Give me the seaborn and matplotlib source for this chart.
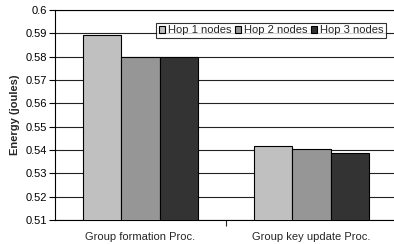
import pandas as pd
import numpy as np
import matplotlib
matplotlib.use("Agg")
import matplotlib.pyplot as plt
import seaborn as sns
from matplotlib.ticker import FuncFormatter, MultipleLocator, FixedLocator

# values
procedures = ["Group formation Proc.", "Group key update Proc."]
series = ["Hop 1 nodes", "Hop 2 nodes", "Hop 3 nodes"]
hop1 = [0.5894, 0.5417]
hop2 = [0.5800, 0.5406]
hop3 = [0.5800, 0.5386]
colors = ["#c0c0c0", "#969696", "#333333"]

df = pd.DataFrame({
    "proc": procedures * 3,
    "series": np.repeat(series, len(procedures)),
    "energy": hop1 + hop2 + hop3,
})

sns.set_style("white")
plt.rcParams["font.family"] = ["Liberation Sans", "DejaVu Sans"]

fig = plt.figure(figsize=(3.94, 2.44), dpi=100)
ax = fig.add_axes([0.1396, 0.0984, 0.868, 0.8607])

sns.barplot(data=df, x="proc", y="energy", hue="series", palette=colors,
            width=0.667, edgecolor="black", linewidth=0.8, ax=ax, zorder=3)

ax.set_ylim(0.51, 0.6)
ax.set_xlim(-0.5, 1.5)
ax.yaxis.set_major_locator(MultipleLocator(0.01))
ax.yaxis.set_major_formatter(FuncFormatter(lambda v, p: f"{round(v, 2):g}"))
ax.grid(axis="y", color="#222222", linewidth=0.8, zorder=0)
ax.set_axisbelow(True)

ax.set_xlabel("")
ax.set_ylabel("Energy (joules)", fontsize=8, fontweight="bold", labelpad=4)
ax.tick_params(axis="y", labelsize=8, length=4, width=0.8, direction="out",
               left=True, pad=2, colors="black")
ax.tick_params(axis="x", which="major", length=0, labelsize=8, pad=9)
ax.xaxis.set_minor_locator(FixedLocator([0.5]))
ax.tick_params(axis="x", which="minor", length=4, width=0.8, direction="out",
               bottom=True)

for s in ["left", "bottom", "top"]:
    ax.spines[s].set_visible(True)
    ax.spines[s].set_color("black")
    ax.spines[s].set_linewidth(0.8)
ax.spines["right"].set_visible(False)

leg = ax.legend(loc="upper right", bbox_to_anchor=(0.969, 0.940), ncol=3,
                fontsize=8, frameon=True, fancybox=False, edgecolor="black",
                handlelength=0.55, handleheight=0.55, handletextpad=0.25,
                columnspacing=0.35, borderpad=0.25, borderaxespad=0)
leg.get_frame().set_linewidth(0.8)
leg.set_zorder(5)

fig.savefig("out.png", dpi=100)
